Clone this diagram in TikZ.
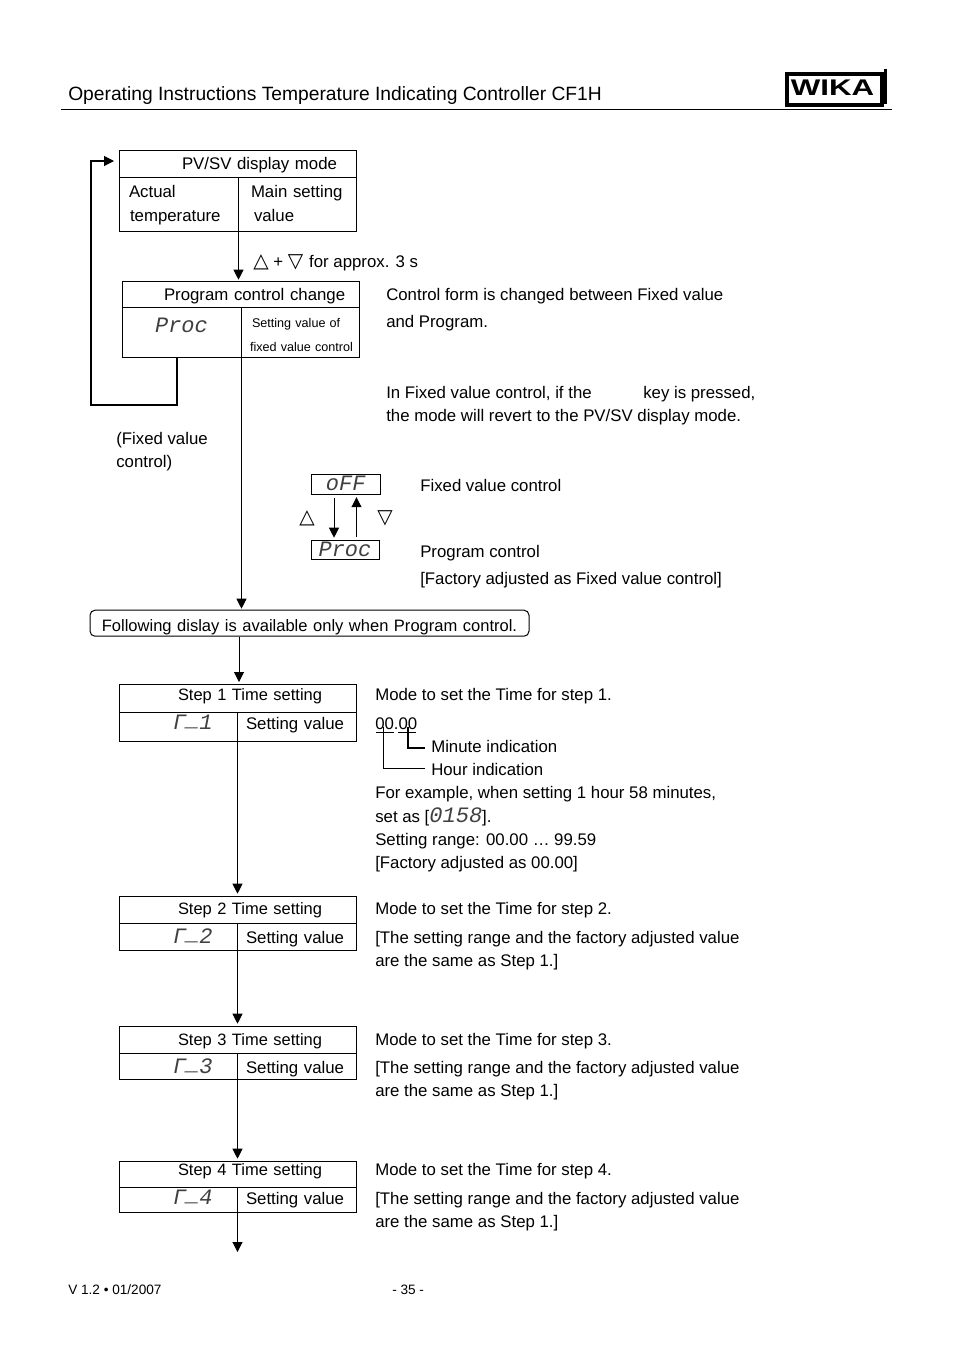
\documentclass[tikz,border=0pt]{standalone}
\usepackage{graphicx}
\usepackage{fontspec}
\setmainfont{Liberation Sans}
\newfontfamily\segfont{Liberation Mono}
\newfontfamily\symfont{DejaVu Sans}
\usetikzlibrary{arrows.meta}
\newdimen\px
\px=0.75pt
\newcommand{\seg}[1]{{\fontsize{16.5}{17}\selectfont\segfont\itshape\color{black!75}#1}}
\newcommand{\segbar}{\raisebox{2pt}{\_}}
\newcommand{\updown}[1]{{\fontsize{15}{15}\selectfont\symfont #1}}
\tikzset{
  txt/.style={anchor=base west, inner sep=0pt, font=\fontsize{12.6}{18}\selectfont},
  box/.style n args={3}{draw, anchor=north west, inner sep=0pt, line width=1\px,
    xshift=-0.5\px, yshift=0.3\px,
    text width=#1\px, text height=#2\px, text depth=#3\px, align=left,
    font=\fontsize{12.6}{18}\selectfont},
  flow/.style={line width=1\px, -{Triangle[length=7.5pt,width=7.5pt]}, shorten >=1\px},
  wire/.style={line width=1\px},
}
\begin{document}
\begin{tikzpicture}[x=0.75pt,y=-0.75pt]
  \useasboundingbox (0,0) rectangle (954,1350);
  % page head
  \node[txt, font=\fontsize{14.43}{18}\selectfont] (title) at (68,100) {Operating Instructions Temperature Indicating Controller CF1H};
  \coordinate (ruleL) at (61,109.5);
  \coordinate (ruleR) at (892,109.5);
  \draw[wire] (ruleL) -- (ruleR);
  \node[draw, line width=4\px, anchor=north west, inner sep=0pt, minimum width=95\px, minimum height=31\px] (logo) at (784.5,71.5) {};
  \node[anchor=center, inner sep=0pt, font=\fontsize{17}{17}\selectfont\bfseries] (logotext) at (832.5,87.5) {\scalebox{1.38}[1]{WIKA}};
  \coordinate (logoR) at (885,69);
  \draw[line width=3\px] (logoR) -- ++(0,35);
  % display mode
  \node[box={237}{19}{8}] (pvhead) at (119,150) {\hspace*{63\px}PV/SV display mode};
  \node[box={119}{20}{34}] (pvleft) at (119,177) {\hspace*{10\px}Actual\\\hspace*{11\px}temperature};
  \node[box={118}{20}{34}] (pvright) at (238,177) {\hspace*{13\px}Main setting\\\hspace*{16\px}value};
  \node[txt] (keys) at (253,267) {\updown{△} + \updown{▽}\kern1pt{} for approx. 3 s};
  % program change
  \node[box={237}{19}{7}] (prochead) at (122,281) {\hspace*{42\px}Program control change};
  \node[box={119}{25}{25}, align=center, text width=119\px] (procleft) at (122,307) {\seg{Proc}};
  \node[box={118}{20}{30}, font=\fontsize{9.45}{18}\selectfont] (procright) at (241,307) {\hspace*{11\px}Setting value of\\\hspace*{9\px}fixed value control};
  \draw[flow] (pvleft.south east) -- (prochead.north -| pvleft.south east);
  % back to display mode
  \coordinate (backA) at (177,405);
  \coordinate (backB) at (91,405);
  \coordinate (backC) at (91,161);
  \coordinate (backD) at (119,161);
  \draw[line width=1.2\px, -{Triangle[length=7.5pt,width=7.5pt]}, shorten >=5\px] (backA |- procleft.south) -- (backA) -- (backB) -- (backC) -- (backD);
  \node[txt] (fixedA) at (116,444) {(Fixed value};
  \node[txt] (fixedB) at (116,467) {control)};
  % explanations
  \node[txt] (formA) at (386,300) {Control form is changed between Fixed value};
  \node[txt] (formB) at (386,327) {and Program.};
  \node[txt] (revertA) at (386,398) {In Fixed value control, if the};
  \node[txt] (revertK) at (643,398) {key is pressed,};
  \node[txt] (revertB) at (386,421) {the mode will revert to the PV/SV display mode.};
  % control form selection
  \node[box={69}{16}{4}, align=center, line width=1.5\px] (off) at (311,474) {\seg{oFF}};
  \node[box={68}{16}{3}, align=center] (proc) at (311,540) {\seg{Proc}};
  \coordinate (downX) at (334,0);
  \coordinate (upX) at (356.5,0);
  \draw[flow, shorten <=3\px, shorten >=2\px] (downX |- off.south) -- (downX |- proc.north);
  \draw[flow, shorten <=3\px, shorten >=2\px] (upX |- proc.north) -- (upX |- off.south);
  \node[txt, anchor=center] (upkey) at (307,518) {\updown{△}};
  \node[txt, anchor=center] (downkey) at (385,518) {\updown{▽}};
  \node[txt] (fixedlbl) at (420,491) {Fixed value control};
  \node[txt] (proglbl) at (420,557) {Program control};
  \node[txt] (factory) at (420,584) {[Factory adjusted as Fixed value control]};
  % note
  \node[box={439}{21}{5}, align=center, rounded corners=5\px, font=\fontsize{12.4}{18}\selectfont] (note) at (90,610) {Following dislay is available only when Program control.};
  \draw[flow] (procleft.south east) -- (note.north -| procleft.south east);
  \coordinate (noteX) at (239,0);
  \coordinate (noteY) at (0,683);
  \draw[flow] (noteX |- note.south) -- (noteX |- noteY);
  % steps
  \foreach \n/\glyph/\ytop/\ymid/\ybot/\ybase/\yval in {
      1/1/684/712/741/700/729,
      2/2/896/923/950/914/943,
      3/3/1026/1053/1079/1045/1073,
      4/4/1161/1187/1212/1175/1204}{
    \pgfmathsetmacro\headup{\ybase-\ytop}
    \pgfmathsetmacro\headdn{\ymid-\ybase}
    \pgfmathsetmacro\valup{\yval-\ymid}
    \pgfmathsetmacro\valdn{\ybot-\yval}
    \node[box={237}{\headup}{\headdn}, font=\fontsize{12.35}{18}\selectfont] (stephead\n) at (119,\ytop) {\hspace*{59\px}Step \n{} Time setting};
    \node[box={118}{\valup}{\valdn}] (stepleft\n) at (119,\ymid) {\hspace*{54\px}\seg{Γ\segbar\glyph}};
    \node[box={119}{\valup}{\valdn}] (stepright\n) at (237,\ymid) {\hspace*{9\px}Setting value};
    \node[txt] (mode\n) at (375,\ybase) {Mode to set the Time for step \n.};
  }
  \foreach \n/\ya/\yb in {2/943/966,3/1073/1096,4/1204/1227}{
    \node[txt] (range\n) at (375,\ya) {[The setting range and the factory adjusted value};
    \node[txt] (same\n) at (375,\yb) {are the same as Step 1.]};
  }
  \foreach \a/\b in {1/2,2/3,3/4}{
    \draw[flow, shorten >=2\px] (stepleft\a.south east) -- (stephead\b.north -| stepleft\a.south east);
  }
  \coordinate (stepend) at (237,1253);
  \draw[flow] (stepleft4.south east) -- (stepleft4.south east |- stepend);
  % step 1 time format
  \node[txt] (clock) at (375,729) {00.00};
  \coordinate (hourA) at (376,732.5);
  \coordinate (hourB) at (394,732.5);
  \coordinate (minA) at (398,732.5);
  \coordinate (minB) at (416,732.5);
  \draw[wire] (hourA) -- (hourB) (minA) -- (minB);
  \node[txt] (minute) at (431,752) {Minute indication};
  \node[txt] (hour) at (431,775) {Hour indication};
  \coordinate (hourV) at (383,727);
  \coordinate (minV) at (408,727);
  \coordinate (hourE) at (425,768);
  \coordinate (minE) at (425,748);
  \draw[wire] (hourV) |- (hourE);
  \draw[line width=1.5\px] (minV) |- (minE);
  \node[txt] (example) at (375,798) {For example, when setting 1 hour 58 minutes,};
  \node[txt] (setas) at (375,822) {set as [\seg{0158}].};
  \node[txt] (srange) at (375,845) {Setting range: 00.00 … 99.59};
  \node[txt] (sfactory) at (375,868) {[Factory adjusted as 00.00]};
  % page foot
  \node[txt, font=\fontsize{10.2}{12}\selectfont] (version) at (68,1294) {V 1.2 • 01/2007};
  \node[txt, font=\fontsize{10.2}{12}\selectfont] (page) at (392,1294) {- 35 -};
\end{tikzpicture}
\end{document}
